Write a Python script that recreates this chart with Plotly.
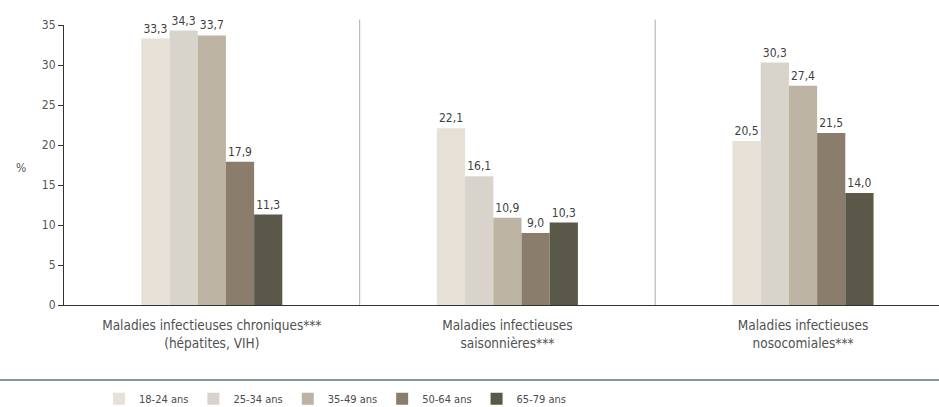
import plotly.graph_objects as go

categories = ["Maladies infectieuses chroniques***<br>(hépatites, VIH)",
              "Maladies infectieuses<br>saisonnières***",
              "Maladies infectieuses<br>nosocomiales***"]
age_groups = ["18-24 ans", "25-34 ans", "35-49 ans", "50-64 ans", "65-79 ans"]
values = {
    "18-24 ans": [33.3, 22.1, 20.5],
    "25-34 ans": [34.3, 16.1, 30.3],
    "35-49 ans": [33.7, 10.9, 27.4],
    "50-64 ans": [17.9, 9.0, 21.5],
    "65-79 ans": [11.3, 10.3, 14.0],
}
colors = ["#e6e0d6", "#d8d3cb", "#bdb3a3", "#8b7d6b", "#5a5848"]
y_ticks = [0, 5, 10, 15, 20, 25, 30, 35]

FONT = "Liberation Sans Narrow, DejaVu Sans Condensed, Roboto, sans-serif"

fig = go.Figure()
for ag, col in zip(age_groups, colors):
    vals = values[ag]
    fig.add_trace(go.Bar(
        x=categories, y=vals, name=ag,
        marker=dict(color=col, line=dict(width=0)),
        text=[f"{v:.1f}".replace(".", ",") for v in vals],
        textposition="outside", cliponaxis=False,
        textfont=dict(size=12, color="#3f3f3f", family=FONT),
    ))

shapes = []
for xs in [0.5, 1.5]:
    shapes.append(dict(type="line", xref="x", yref="paper", x0=xs, x1=xs, y0=0, y1=1.02,
                       line=dict(color="#bbbbbb", width=1.2)))
shapes.append(dict(type="line", xref="paper", yref="paper", x0=-0.08, x1=1.0, y0=-0.268, y1=-0.268,
                   line=dict(color="#7f9898", width=2)))

fig.update_layout(
    width=939, height=407,
    margin=dict(l=64, r=0, t=25, b=102, autoexpand=False),
    paper_bgcolor="white", plot_bgcolor="white",
    barmode="group", bargap=0.523, bargroupgap=0,
    font=dict(family=FONT, size=12, color="#555555"),
    showlegend=True,
    legend=dict(orientation="h", x=0.04, xanchor="left", y=-0.335, yanchor="middle",
                font=dict(size=11, color="#4a4a4a", family=FONT),
                itemwidth=30, tracegroupgap=0, traceorder="normal"),
    shapes=shapes,
    annotations=[dict(text="%", xref="paper", yref="paper", x=-0.057, y=0.49,
                      showarrow=False, font=dict(size=12, color="#555555", family=FONT))],
    xaxis=dict(range=[-0.5, 2.46], showline=True, linecolor="#333333", linewidth=1.2,
               ticks="", showgrid=False, ticklabelstandoff=8, automargin=False,
               tickfont=dict(size=13.5, color="#505050", family=FONT)),
    yaxis=dict(range=[0, 35], tickvals=y_ticks, showline=True, linecolor="#333333", linewidth=1.2,
               ticks="outside", ticklen=5, tickcolor="#333333", showgrid=False, zeroline=False,
               automargin=False,
               tickfont=dict(size=12, color="#555555", family=FONT)),
)

fig.write_html("out.html")
